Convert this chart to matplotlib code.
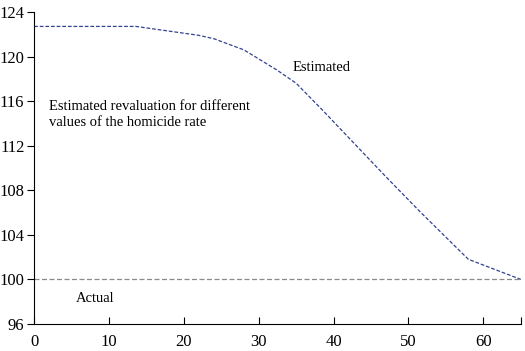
import numpy as np
import matplotlib.pyplot as plt

# data
homicide_rate = [0, 13.6, 22, 24, 28, 32.4, 35, 38.5, 47, 51.5, 58, 65]
estimated = [122.7, 122.7, 121.9, 121.6, 120.6, 118.8, 117.6, 115.2, 109.2, 106.1, 101.8, 100.0]
actual_x = [0, 65]
actual = [100, 100]

plt.rcParams['font.family'] = ['Liberation Serif', 'DejaVu Serif']

fig = plt.figure(figsize=(5.25, 3.51), dpi=100)
ax = fig.add_axes([0.065, 0.077, 0.927, 0.889])

ax.plot(homicide_rate, estimated, color='#34428f', lw=0.9, dashes=(3, 1.5))
ax.plot(actual_x, actual, color='#8a8a8a', lw=0.9, dashes=(4, 2))

ax.text(2, 114.8, 'Estimated revaluation for different\nvalues of the homicide rate',
        fontsize=10.5, va='center', linespacing=1.25)
ax.text(34.5, 119.0, 'Estimated', fontsize=10.5, va='center')
ax.text(5.6, 98.3, 'Actual', fontsize=10.5, va='center')

ax.set_xlim(0, 65)
ax.set_ylim(96, 124)
ax.set_xticks([0, 10, 20, 30, 40, 50, 60, 65])
ax.set_xticklabels(['0', '10', '20', '30', '40', '50', '60', ''])
ax.set_yticks(np.arange(96, 125, 4))

for s in ['top', 'right']:
    ax.spines[s].set_visible(False)
ax.tick_params(axis='x', direction='in', length=5, labelsize=12, pad=7)
ax.tick_params(axis='y', direction='out', length=5, labelsize=12, pad=2)

plt.savefig('out.png', dpi=100)
